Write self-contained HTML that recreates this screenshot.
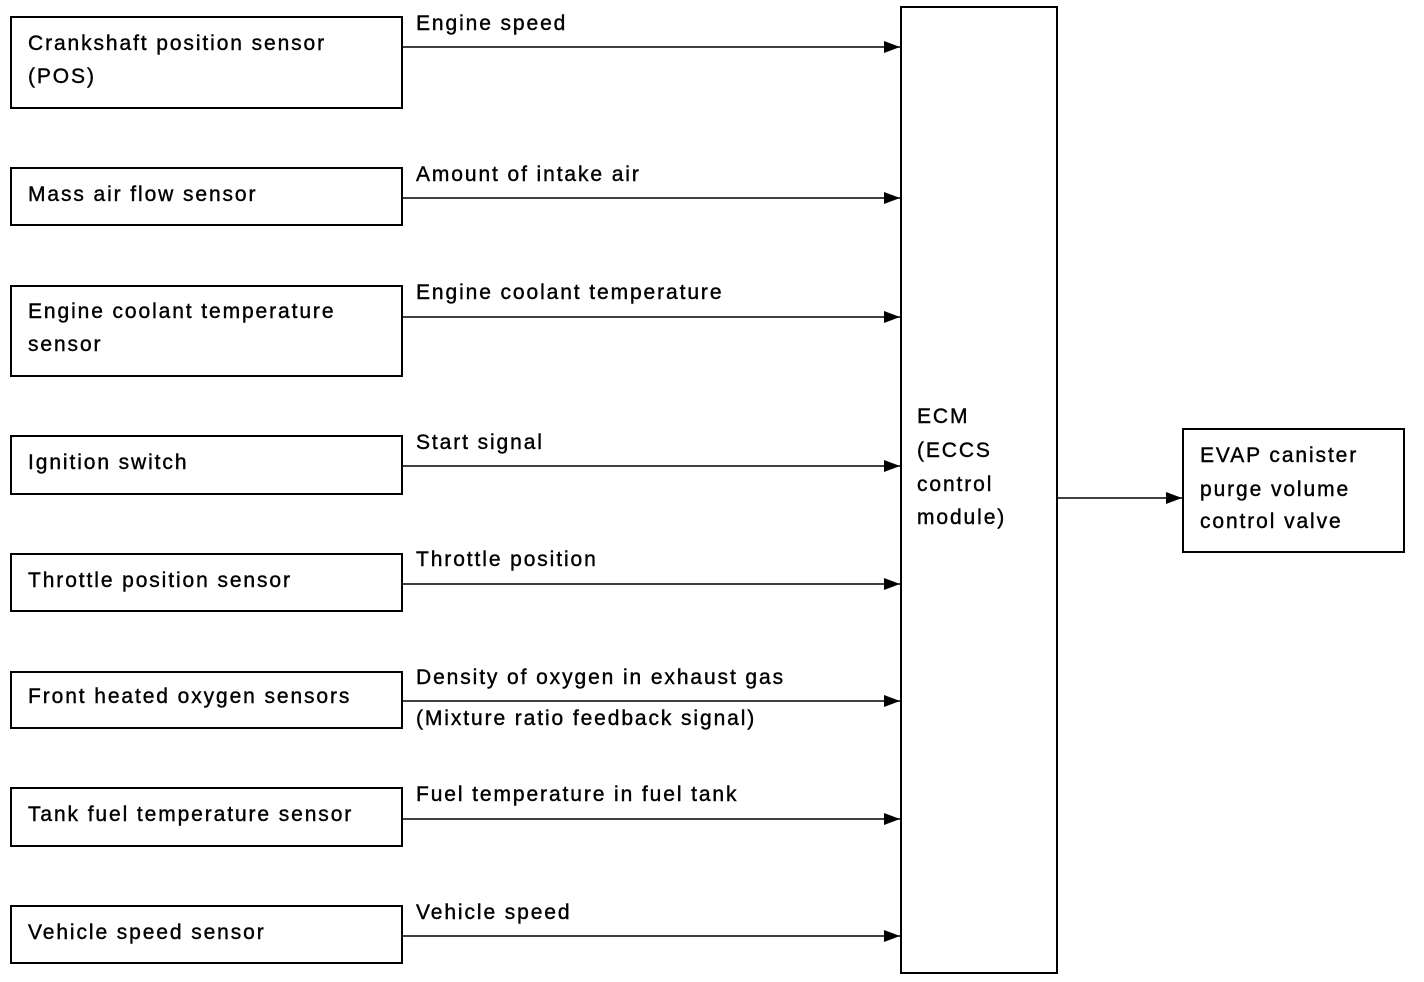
<!DOCTYPE html>
<html><head><style>
body{margin:0;background:#fff}
svg{display:block}
text{font-family:"Liberation Sans",sans-serif;font-size:21px;letter-spacing:1.9px;fill:#000;stroke:#000;stroke-width:0.4}
</style></head><body>
<svg width="1424" height="982" viewBox="0 0 1424 982">
<defs><marker id="a" markerWidth="16" markerHeight="12" refX="16" refY="6" orient="auto" markerUnits="userSpaceOnUse"><path d="M0,0L16,6L0,12z" fill="#000"/></marker></defs>
<g fill="none" stroke="#000" stroke-width="2">
<rect x="11" y="17" width="391" height="91"/>
<rect x="11" y="168" width="391" height="57"/>
<rect x="11" y="286" width="391" height="90"/>
<rect x="11" y="436" width="391" height="58"/>
<rect x="11" y="554" width="391" height="57"/>
<rect x="11" y="672" width="391" height="56"/>
<rect x="11" y="788" width="391" height="58"/>
<rect x="11" y="906" width="391" height="57"/>
<rect x="901" y="7" width="156" height="966"/>
<rect x="1183" y="429" width="221" height="123"/>
</g>
<g stroke="#000" stroke-width="1.5" marker-end="url(#a)">
<line x1="402" y1="47" x2="900" y2="47"/>
<line x1="402" y1="198" x2="900" y2="198"/>
<line x1="402" y1="317" x2="900" y2="317"/>
<line x1="402" y1="466" x2="900" y2="466"/>
<line x1="402" y1="584" x2="900" y2="584"/>
<line x1="402" y1="701" x2="900" y2="701"/>
<line x1="402" y1="819" x2="900" y2="819"/>
<line x1="402" y1="936" x2="900" y2="936"/>
<line x1="1057" y1="498" x2="1182" y2="498"/>
</g>
<text x="28" y="50">Crankshaft position sensor</text>
<text x="28" y="83">(POS)</text>
<text x="28" y="201">Mass air flow sensor</text>
<text x="28" y="318">Engine coolant temperature</text>
<text x="28" y="351">sensor</text>
<text x="28" y="469">Ignition switch</text>
<text x="28" y="587">Throttle position sensor</text>
<text x="28" y="703">Front heated oxygen sensors</text>
<text x="28" y="821">Tank fuel temperature sensor</text>
<text x="28" y="939">Vehicle speed sensor</text>
<text x="416" y="30">Engine speed</text>
<text x="416" y="181">Amount of intake air</text>
<text x="416" y="299">Engine coolant temperature</text>
<text x="416" y="449">Start signal</text>
<text x="416" y="566">Throttle position</text>
<text x="416" y="684">Density of oxygen in exhaust gas</text>
<text x="416" y="725">(Mixture ratio feedback signal)</text>
<text x="416" y="801">Fuel temperature in fuel tank</text>
<text x="416" y="919">Vehicle speed</text>
<text x="917" y="423">ECM</text>
<text x="917" y="457">(ECCS</text>
<text x="917" y="491">control</text>
<text x="917" y="524">module)</text>
<text x="1200" y="462">EVAP canister</text>
<text x="1200" y="496">purge volume</text>
<text x="1200" y="528">control valve</text>
</svg>
</body></html>
